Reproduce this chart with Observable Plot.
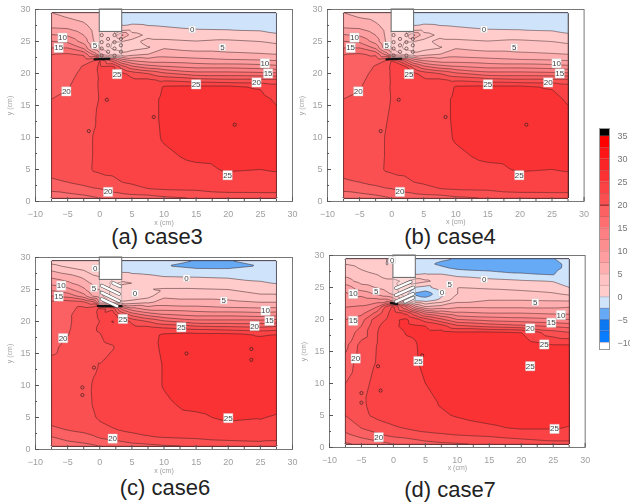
<!DOCTYPE html>
<html><head><meta charset="utf-8">
<script src="https://cdn.jsdelivr.net/npm/d3@7"></script>
<script src="https://cdn.jsdelivr.net/npm/@observablehq/plot@0.6"></script>
<style>
html,body{margin:0;padding:0;background:#fff;overflow:hidden}
#root{position:relative;width:630px;height:504px;overflow:hidden}
.cap{position:absolute;transform:translateX(-50%);font:22px "Liberation Sans",sans-serif;color:#222;white-space:nowrap;line-height:22px}
svg{filter:blur(0.35px)}
</style></head><body><div id="root"></div>
<script>
const xs=[-7.5,-5,-2.5,-1,0,2,3.5,5,7.5,10,15,20,25,27.5];
const ys=[29.5,28.7,28,27,26,25,24,23,22,21,20,19,18,16,13,10,7,5,3,2,1,0.5];
// each inner list is one column of temperature readings at the ys above, one list per entry of xs
const case3=[
[5,5.5,6.3,7.7,10.2,12.6,15,17.5,17.6,17.9,18.5,18.8,19.2,20,20.3,20.5,20.5,20.4,19.8,18,16.8,15.5],
[4.5,5,6,7.5,9.7,12,15,17.8,18.7,19,19.2,19.5,19.8,20.5,20.7,20.8,20.8,20.7,20,18.6,17,16],
[4,4.5,5,6,7.5,9,12,17,19.5,20.2,20.6,20.9,21,21,21,21,21.3,21.5,20.8,19.2,17.5,16.5],
[3,3.4,3.8,4.5,4.8,5,6,12,20,21.5,21.8,21.8,22,22,22.2,22.6,22.6,22.7,21.5,19.8,18,17],
[3.5,3.5,3.5,4,4.5,4.5,5,8,22.6,23,22.8,22.7,22.7,22.6,23,23,23,22.9,21.5,20,18.5,17.5],
[3,3,3,3,3,2.5,2,4,17,23.5,23.8,23.7,23.7,23.7,23.6,23.6,23.4,23,22,20.9,19.2,18],
[-1,-0.8,-0.5,0.5,8,2.5,1.5,3,12,19,23,23.4,23.6,23.8,24,23.9,23.6,23.2,22.5,21.5,19.5,18.5],
[-1.5,-1.2,-0.4,1,3.5,2,1.5,4,10,16,21.5,23,23.5,24,24.2,24,23.7,23.4,22.7,22,19.8,18.5],
[-1.5,-1,-0.5,0.5,2,3,2.4,5,9,14,20,23,24,24.4,24.4,24.3,24,23.7,23,22.5,20,19],
[-1.5,-1,-0.6,0.3,1.5,3,4.8,6.5,9,13,18,22,25.1,25.3,25.3,25.2,24.6,24,23.4,22.8,20.5,19.5],
[-1.5,-1,-0.7,-0.1,1.2,2.6,4,6,8.5,12,16,21,25.2,26,26.2,26,25.4,24.5,23.8,23,21,20],
[-1.5,-1.2,-1,-0.2,1,3,4,5.5,8,12,16,20.5,25.2,25.8,26.2,26,25.6,25.2,24,23.2,22,20.5],
[-1.5,-1.2,-1,-0.3,0.6,2.5,3.8,5.2,7.8,11.5,15.7,20.5,24.8,25.6,26.2,26,25.7,25,24,23.3,22,20.5],
[-1.5,-1.2,-1,-0.5,0.2,2,3.5,5,7.5,11,15.5,20.5,23.5,24.7,25.6,26,25.6,25.2,24,23.3,22,20.5]];
const case4=case3;
const case6=[
[1.5,3,4.8,7,9.2,12,15,18,18.5,18.6,18.7,18.8,19,19.6,20.5,20.7,20.8,20.7,19.6,17.5,16.5,15.5],
[1,2,3.5,6,8,10.7,14,18.7,19.2,19.6,19.6,19.7,19.9,20.5,20.8,20.9,21,21,20,18.5,17,16],
[0.5,1.2,2.5,4.5,6,8,11,18,20.8,21.2,21.2,21.2,21.3,21.3,21.3,21.5,21.8,21.6,20.6,19,17.5,16.5],
[0,0.2,1,3,4.5,5,7,16,21.5,22,22,22.2,22.2,22.2,22.2,22.7,22.6,22.3,21.2,19.7,18,17],
[0,0,0.5,2.5,4,5,6,9,23,22.8,22.5,22.8,22.4,21.8,22.6,23,23,22.8,21.8,20.4,18.5,17.5],
[3,3,3,3,2,1.5,1.5,4,22,24.5,25.2,24,23.7,22.3,23.6,23.7,23.7,23.3,22.3,21,19.2,18],
[-1,-0.8,-0.5,1,3,0.8,0.3,3,14,20,24.5,24,23.8,23.7,23.9,23.9,23.8,23.5,22.6,21.5,19.5,18.5],
[-1.2,-1,-0.5,0.5,2.5,1,0.5,3.5,11,17,22,23.4,23.8,24,24.1,24.1,23.9,23.7,22.8,22,20,19],
[-1.2,-1.1,-0.6,0.3,1.5,2.5,1.5,4.5,9,14.5,20,23.3,24.5,24.4,24.3,24.3,24.1,23.9,23,22.4,20.4,19.2],
[-1.6,-2.4,-0.8,0,1.5,2.7,4.5,6,9,13,18,22.5,25.2,25.3,25.1,25.1,24.7,24.3,23.3,22.7,21,19.6],
[-2.6,-3.3,-1.9,-0.1,1.2,2.7,4,6,8.5,12,16,21.5,25.6,26,26,26,25.5,24.6,23.5,23,21.3,20],
[-2.6,-3.3,-2,-0.3,1,2.5,4,5.6,8,12,16,21,25.5,26.2,26.5,26.3,26,25.4,24,23.2,22,20.5],
[-1.6,-2.4,-1.1,-0.5,0.2,1.2,3,5,7.8,11.5,16,20.5,24.8,26,26.5,26.3,25.7,25.1,24.4,23.3,22.2,21],
[-1.2,-1.1,-1,-0.6,-0.1,1,3,5,8,12,16.5,21,25,26,26.5,26.3,25.6,24.8,23.8,23,22.2,21]];
const case7=[
[2,2.4,3.4,4.5,6,8.8,10.5,11.3,12.4,13.8,15,15.6,16,16.8,18.5,20,20.3,20,18.5,17,15.5,14.5],
[1.5,1.8,2.3,3.2,4,6,9,11.5,12.7,14.2,16.5,17.5,18.5,21,21.5,22,22.3,22.1,20,18.5,16.5,15.5],
[0.6,0.9,1.5,2.5,3.6,4.8,7,11,15,18.5,21.8,22.4,22.5,22.6,22.7,23,23,22.9,21.6,19.5,17.5,16.5],
[0,-0.1,0.2,1.5,3,4,5.5,11,21,22,22.6,22.8,23,23,23,23.1,23.2,23.2,22,20.4,18,17],
[0.8,0.6,0.6,1.5,3,3.5,4.5,9,23,23.8,24.7,24.6,24,23.9,23.9,23.8,23.7,23.5,22.2,20.8,18.5,17.5],
[3,3,3,3,2,1,0.5,3,15,22,25.4,25.6,25.1,24.7,24.4,24.3,24.2,23.9,22.6,21.2,19,18],
[-0.5,-1,-0.5,0,4,-0.2,-3,-0.8,8,18,23.5,25.2,25.2,24.9,24.8,24.7,24.4,24.1,23,21.6,19.5,18.5],
[-1.2,-2,-1,0.2,3,-0.8,-4,-1.2,5,14,21,25,25.6,25.6,25.4,25,24.3,24.2,23.2,22,20,19],
[-2,-3,-2,0.2,1.5,1.5,-0.8,0.8,6,12,18,23.5,25.8,26,25.7,25.2,25.2,24.7,23.4,22.3,20.4,19.5],
[-2.7,-3.5,-2.9,-0.5,1.2,2.5,2.5,4,7,10.5,15,20.5,25.2,26.3,26.2,25.6,25.4,25.2,23.8,22.6,20.7,19.7],
[-2.8,-3.6,-3.3,-1.4,0.8,2.2,3.5,5,7,10,14,19,25.3,26.6,26.7,26.4,26,25.6,24.7,23,21.3,20],
[-2.8,-3.6,-3.4,-2.2,0.3,1.8,3.3,5,7,10,13.5,18,25,26.6,27,26.8,26.3,26,25.2,23.5,22,20.5],
[-2.6,-3.3,-3.2,-2.6,-0.1,1,2.8,4.8,7,9.5,13,17,21,25.1,26.9,27,26.5,26,25.2,23.8,22.5,20.5],
[-1.5,-1.8,-1.8,-0.8,-0.4,0,2,4.7,7.3,9.5,12.5,16.5,20,25.1,26.5,27,26.5,26,24.8,23.8,22.5,20.5]];

const levels=[-10,-7.5,-5,-2.5,0,2.5,5,7.5,10,12.5,15,17.5,20,22.5,25,27.5,30,32.5,35];
const colors=["#ffffff","#0a7cff","#0d78f2","#66aaf5","#cfe4fb","#ffcbcb","#ffc3c3","#ffaeb0","#ff9ea0","#fd8e90","#fd8084","#fc6e70","#fb6062","#fb5052","#fb4244","#fa3234","#fa2527","#fb1517","#ff0000","#000000"];

const labelsA=[[14.4,26.9,"0"],[19.1,24.1,"5"],[-0.75,24.4,"5"],[-5.8,25.6,"10"],[-6.4,24,"15"],[-5.2,17.2,"20"],[25.7,21.6,"10"],[26.2,20,"15"],[24.4,18.6,"20"],[15,18.3,"25"],[2.7,19.9,"25"],[19.9,4.1,"25"],[1.3,1.5,"20"]];
const labelsC=[[-0.7,28.3,"0"],[13.5,26.8,"0"],[19.3,23.3,"5"],[-0.9,25.2,"5"],[5.5,24.4,"0"],[-6,25.6,"10"],[-6.4,23.9,"15"],[-5.7,17.4,"20"],[25.8,21.7,"10"],[26.4,20.1,"15"],[24.1,19.3,"20"],[12.7,19.1,"25"],[3.6,20.4,"25"],[20,4.9,"25"],[2,1.7,"20"]];
const labelsD=[[-0.2,29.3,"0"],[14.2,26.3,"0"],[8.8,25.5,"5"],[7.6,24.2,"0"],[-2.7,24.4,"5"],[22.2,22.7,"5"],[-6.3,24,"10"],[-6.3,19.8,"15"],[-5.9,13.9,"20"],[26.2,20.7,"10"],[24.7,19.5,"15"],[21.4,18.6,"20"],[23.6,16.1,"25"],[3.9,13.5,"25"],[21.4,12.7,"25"],[25.2,2.9,"25"],[-2.3,1.6,"20"]];

const islandsA=[[1.1,15.9],[8.4,13.2],[21,12],[-1.7,11]];
const islandsC=[[13.5,15],[23.6,15.7],[23.6,14],[-2.7,8.5],[-2.7,9.7],[-0.9,12.8]];
const islandsD=[[-2.4,12.7],[-2,8.9],[-5,8.5],[-5,7],[4.5,14.4]];

const holes=[[0.3,26],[2.3,26],[1.3,25.4],[3.3,25.4],[0.3,24.9],[2.3,24.9],[1.3,24.4],[3.3,24.4],[0.3,23.9],[2.3,23.9],[1.3,23.4],[3.3,23.4],[0.3,22.8],[2.3,22.8]];
const slatsC=[[2.1,26,3.2,25.5],[0.3,25.6,3,24.3],[0.3,24.5,3,23.2],[0.3,23.5,2.7,22.4]];
const slatsD=[[0.4,24.9,2.7,25.9],[0.4,23.8,3.1,25],[0.4,22.8,3.1,24],[1.8,22.8,3.1,23.4]];
const xTicks=[-10,-5,0,5,10,15,20,25,30], xMinor=[-7.5,-2.5,2.5,7.5,12.5,17.5,22.5,27.5];
const yTicks=[0,5,10,15,20,25,30], yMinor=[2.5,7.5,12.5,17.5,22.5,27.5];

function tidy(grid){const out=[];grid.forEach((col,i)=>col.forEach((v,j)=>out.push({x:xs[i],y:ys[j],v})));return out;}
const root=document.getElementById("root");
function panel(grid,labels,islands,slats,holeList,wall,L,R,T,B){
  const ml=35,mt=9,mr=20,mb=25;
  const rows=tidy(grid);
  const wide=labels.filter(d=>d[2].length>1), narrow=labels.filter(d=>d[2].length===1);
  const p=Plot.plot({
    width:R-L+ml+mr,height:B-T+mt+mb,marginLeft:ml,marginRight:mr,marginTop:mt,marginBottom:mb,
    x:{domain:[-10,30]},y:{domain:[0,30]},
    color:{type:"threshold",domain:levels,range:colors},
    style:{position:"absolute",left:(L-ml)+"px",top:(T-mt)+"px",background:"transparent",overflow:"visible"},
    marks:[
      Plot.contour(rows,{x:"x",y:"y",fill:"v",interpolate:"barycentric",x1:-7.5,x2:27.5,y1:0.5,y2:29.5,pixelSize:1,thresholds:levels,stroke:"#3a2020",strokeWidth:0.6,strokeOpacity:0.85}),
      Plot.dot(islands,{x:d=>d[0],y:d=>d[1],r:1.6,stroke:"#3a2020",strokeWidth:0.7}),
      Plot.rect([[0,3.5,22.4,26.5]],{x1:d=>d[0],x2:d=>d[1],y1:d=>d[2],y2:d=>d[3],fill:"#fff",fillOpacity:0.25,stroke:"#999",strokeWidth:0.6}),
      Plot.rect([[0,3.5,26.5,30]],{x1:d=>d[0],x2:d=>d[1],y1:d=>d[2],y2:d=>d[3],fill:"#fff",stroke:"#666",strokeWidth:1}),
      Plot.line(wall,{x:d=>d[0],y:d=>d[1],stroke:"#111",strokeWidth:2.2}),
      Plot.dot(holeList,{x:d=>d[0],y:d=>d[1],r:1.6,stroke:"#5a3a3a",strokeWidth:0.7}),
      Plot.link(slats,{x1:d=>d[0],y1:d=>d[1],x2:d=>d[2],y2:d=>d[3],stroke:"#555",strokeWidth:3.6,strokeLinecap:"round"}),
      Plot.link(slats,{x1:d=>d[0],y1:d=>d[1],x2:d=>d[2],y2:d=>d[3],stroke:"#fff",strokeWidth:2.4,strokeLinecap:"round"}),
      Plot.dot(wide,{x:d=>d[0],y:d=>d[1],symbol:"square",r:5.2,fill:"#fff",stroke:"#ccc",strokeWidth:0.4}),
      Plot.dot(narrow,{x:d=>d[0],y:d=>d[1],symbol:"square",r:3.8,fill:"#fff",stroke:"#ccc",strokeWidth:0.4}),
      Plot.text(labels,{x:d=>d[0],y:d=>d[1],text:d=>d[2],fontSize:8,fill:"#444",fontFamily:"Liberation Sans"}),
      Plot.frame({stroke:"#777",strokeWidth:1}),
      Plot.axisX({ticks:xTicks,tickSize:-4,tickPadding:13,tickFormat:d=>d<0?"\u2212"+(-d):""+d,fontSize:9,color:"#a0a0a0",stroke:"#555",label:null,fontFamily:"Liberation Sans"}),
      Plot.axisX({ticks:[],label:"x (cm)",labelAnchor:"center",labelArrow:"none",labelOffset:23,fontSize:7,color:"#a0a0a0",fontFamily:"Liberation Sans"}),
      Plot.axisX({ticks:xMinor,tickSize:-2,text:null,label:null,stroke:"#555"}),
      Plot.axisY({ticks:yTicks,tickSize:-4,tickPadding:9,fontSize:9,color:"#a0a0a0",stroke:"#555",label:null,fontFamily:"Liberation Sans"}),
      Plot.axisY({ticks:[],label:"y (cm)",labelAnchor:"center",labelArrow:"none",labelOffset:28,fontSize:7,color:"#a0a0a0",fontFamily:"Liberation Sans"}),
      Plot.axisY({ticks:yMinor,tickSize:-2,text:null,label:null,stroke:"#555"})
    ]
  });
  root.appendChild(p);
}
const wallA=[[-0.8,22.2],[1.5,22.3]], wallC=[[-0.3,22.4],[3.4,22.4]], wallD=[[-0.4,22.6],[0.6,22.4]];
panel(case3,labelsA,islandsA,[],holes,wallA,35,292,8.7,200.7);
panel(case4,labelsA,islandsA,[],holes,wallA,326.7,583.3,8.7,200.7);
panel(case6,labelsC,islandsC,slatsC,[],wallC,35,292,256.7,448.7);
panel(case7,labelsD,islandsD,slatsD,[],wallD,329.3,585,254.7,446.7);

const captions=[["(a) case3",157,226],["(b) case4",450,226],["(c) case6",165,477],["(d) case7",450,479]];
captions.forEach(([t,x,y])=>{const d=document.createElement("div");d.className="cap";d.textContent=t;d.style.left=x+"px";d.style.top=y+"px";root.appendChild(d);});

// colour bar
const barLow=[-11.5,...levels], barHigh=[...levels,36.7];
const bandRows=colors.map((c,i)=>({lo:barLow[i],hi:barHigh[i],c}));
const bar=Plot.plot({
  width:50,height:221+10,marginLeft:19,marginRight:21,marginTop:5,marginBottom:5,
  y:{domain:[-11.5,36.7]},x:{domain:[0,1],axis:null},
  style:{position:"absolute",left:"580px",top:"123.3px",background:"transparent",overflow:"visible"},
  marks:[
    Plot.rect(bandRows,{x1:0,x2:1,y1:"lo",y2:"hi",fill:"c"}),
    Plot.ruleY(levels,{stroke:"#7a3030",strokeOpacity:0.45,strokeWidth:0.6}),
    Plot.ruleY([20],{stroke:"#7a1a1a",strokeWidth:1}),
    Plot.frame({stroke:"#999"}),
    Plot.axisY({anchor:"right",ticks:[-10,-5,0,5,10,15,20,25,30,35],tickSize:0,tickPadding:8,fontSize:9,color:"#777",label:null,tickFormat:d=>d<0?"\u2212"+(-d):""+d,fontFamily:"Liberation Sans"})
  ]
});
root.appendChild(bar);
</script></body></html>
